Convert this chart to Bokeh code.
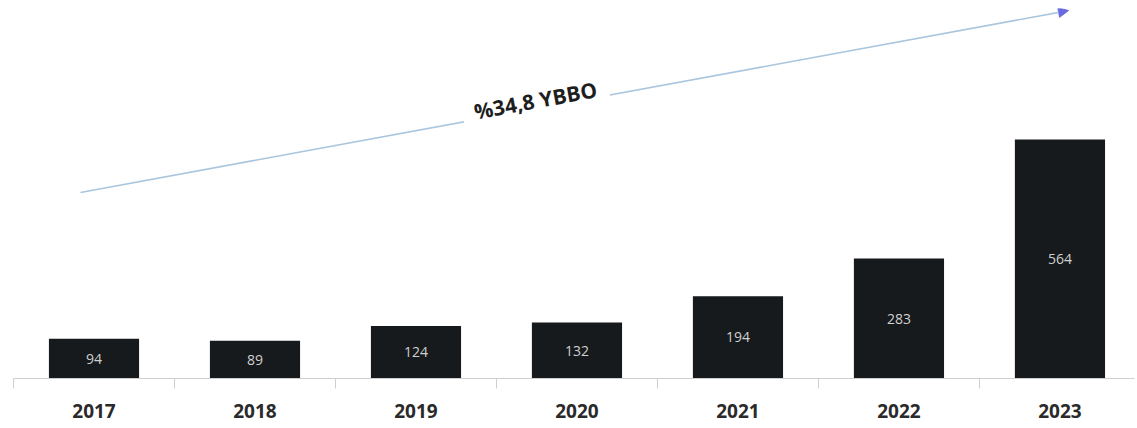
from bokeh.plotting import figure
from bokeh.models import ColumnDataSource, FixedTicker, Label, Arrow, NormalHead, Range1d
from bokeh.embed import file_html
from bokeh.resources import INLINE
from bokeh.core.properties import value

years = ["2017", "2018", "2019", "2020", "2021", "2022", "2023"]
values = [94, 89, 124, 132, 194, 283, 564]
cagr_label = "%34,8 YBBO"

xs = [i + 0.5 for i in range(len(years))]
src = ColumnDataSource(dict(x=xs, top=values, mid=[v / 2 for v in values],
                            lbl=[str(v) for v in values]))

p = figure(width=1136, height=426, output_backend="svg", toolbar_location=None,
           x_range=Range1d(0, 6.963), y_range=Range1d(0, 873),
           min_border_left=13, min_border_right=2, min_border_top=8, min_border_bottom=48)
p.outline_line_color = None
p.xgrid.visible = False
p.ygrid.visible = False
p.yaxis.visible = False
p.background_fill_color = "white"
p.border_fill_color = "white"

p.vbar(x="x", top="top", width=0.56, source=src, fill_color="#161a1c", line_color=None)
p.text(x="x", y="mid", text="lbl", source=src, text_align="center", text_baseline="middle",
       text_color="#d0d0d0", text_font_size="14px", text_font=value("Open Sans"))

ax = p.xaxis[0]
ax.ticker = FixedTicker(ticks=xs, minor_ticks=list(range(0, 8)))
ax.major_label_overrides = {x: y for x, y in zip(xs, years)}
ax.major_tick_line_color = None
ax.major_tick_out = 0
ax.major_tick_in = 0
ax.minor_tick_out = 10
ax.minor_tick_in = 0
ax.minor_tick_line_color = "#cfcfcf"
ax.axis_line_color = "#cfcfcf"
ax.axis_line_width = 1
ax.major_label_standoff = 15
ax.major_label_text_font = "Open Sans"
ax.major_label_text_font_style = "bold"
ax.major_label_text_font_size = "19px"
ax.major_label_text_color = "#2a2a2a"

arrow = Arrow(end=NormalHead(size=10, fill_color="#6a6ae0", line_color="#6a6ae0"),
              x_start=0.416, y_start=439, x_end=6.553, y_end=868,
              line_color="#a9c6de", line_width=1.6)
p.add_layout(arrow)

p.add_layout(Label(x=3.242, y=656, text=cagr_label, angle=0.183, text_align="center",
                   text_baseline="middle", text_font="Open Sans", text_font_size="21px",
                   text_font_style="bold", text_color="#1e1e1e",
                   background_fill_color="white", background_fill_alpha=1.0,
                   padding=12))

open("out.html", "w").write(file_html(p, INLINE))
